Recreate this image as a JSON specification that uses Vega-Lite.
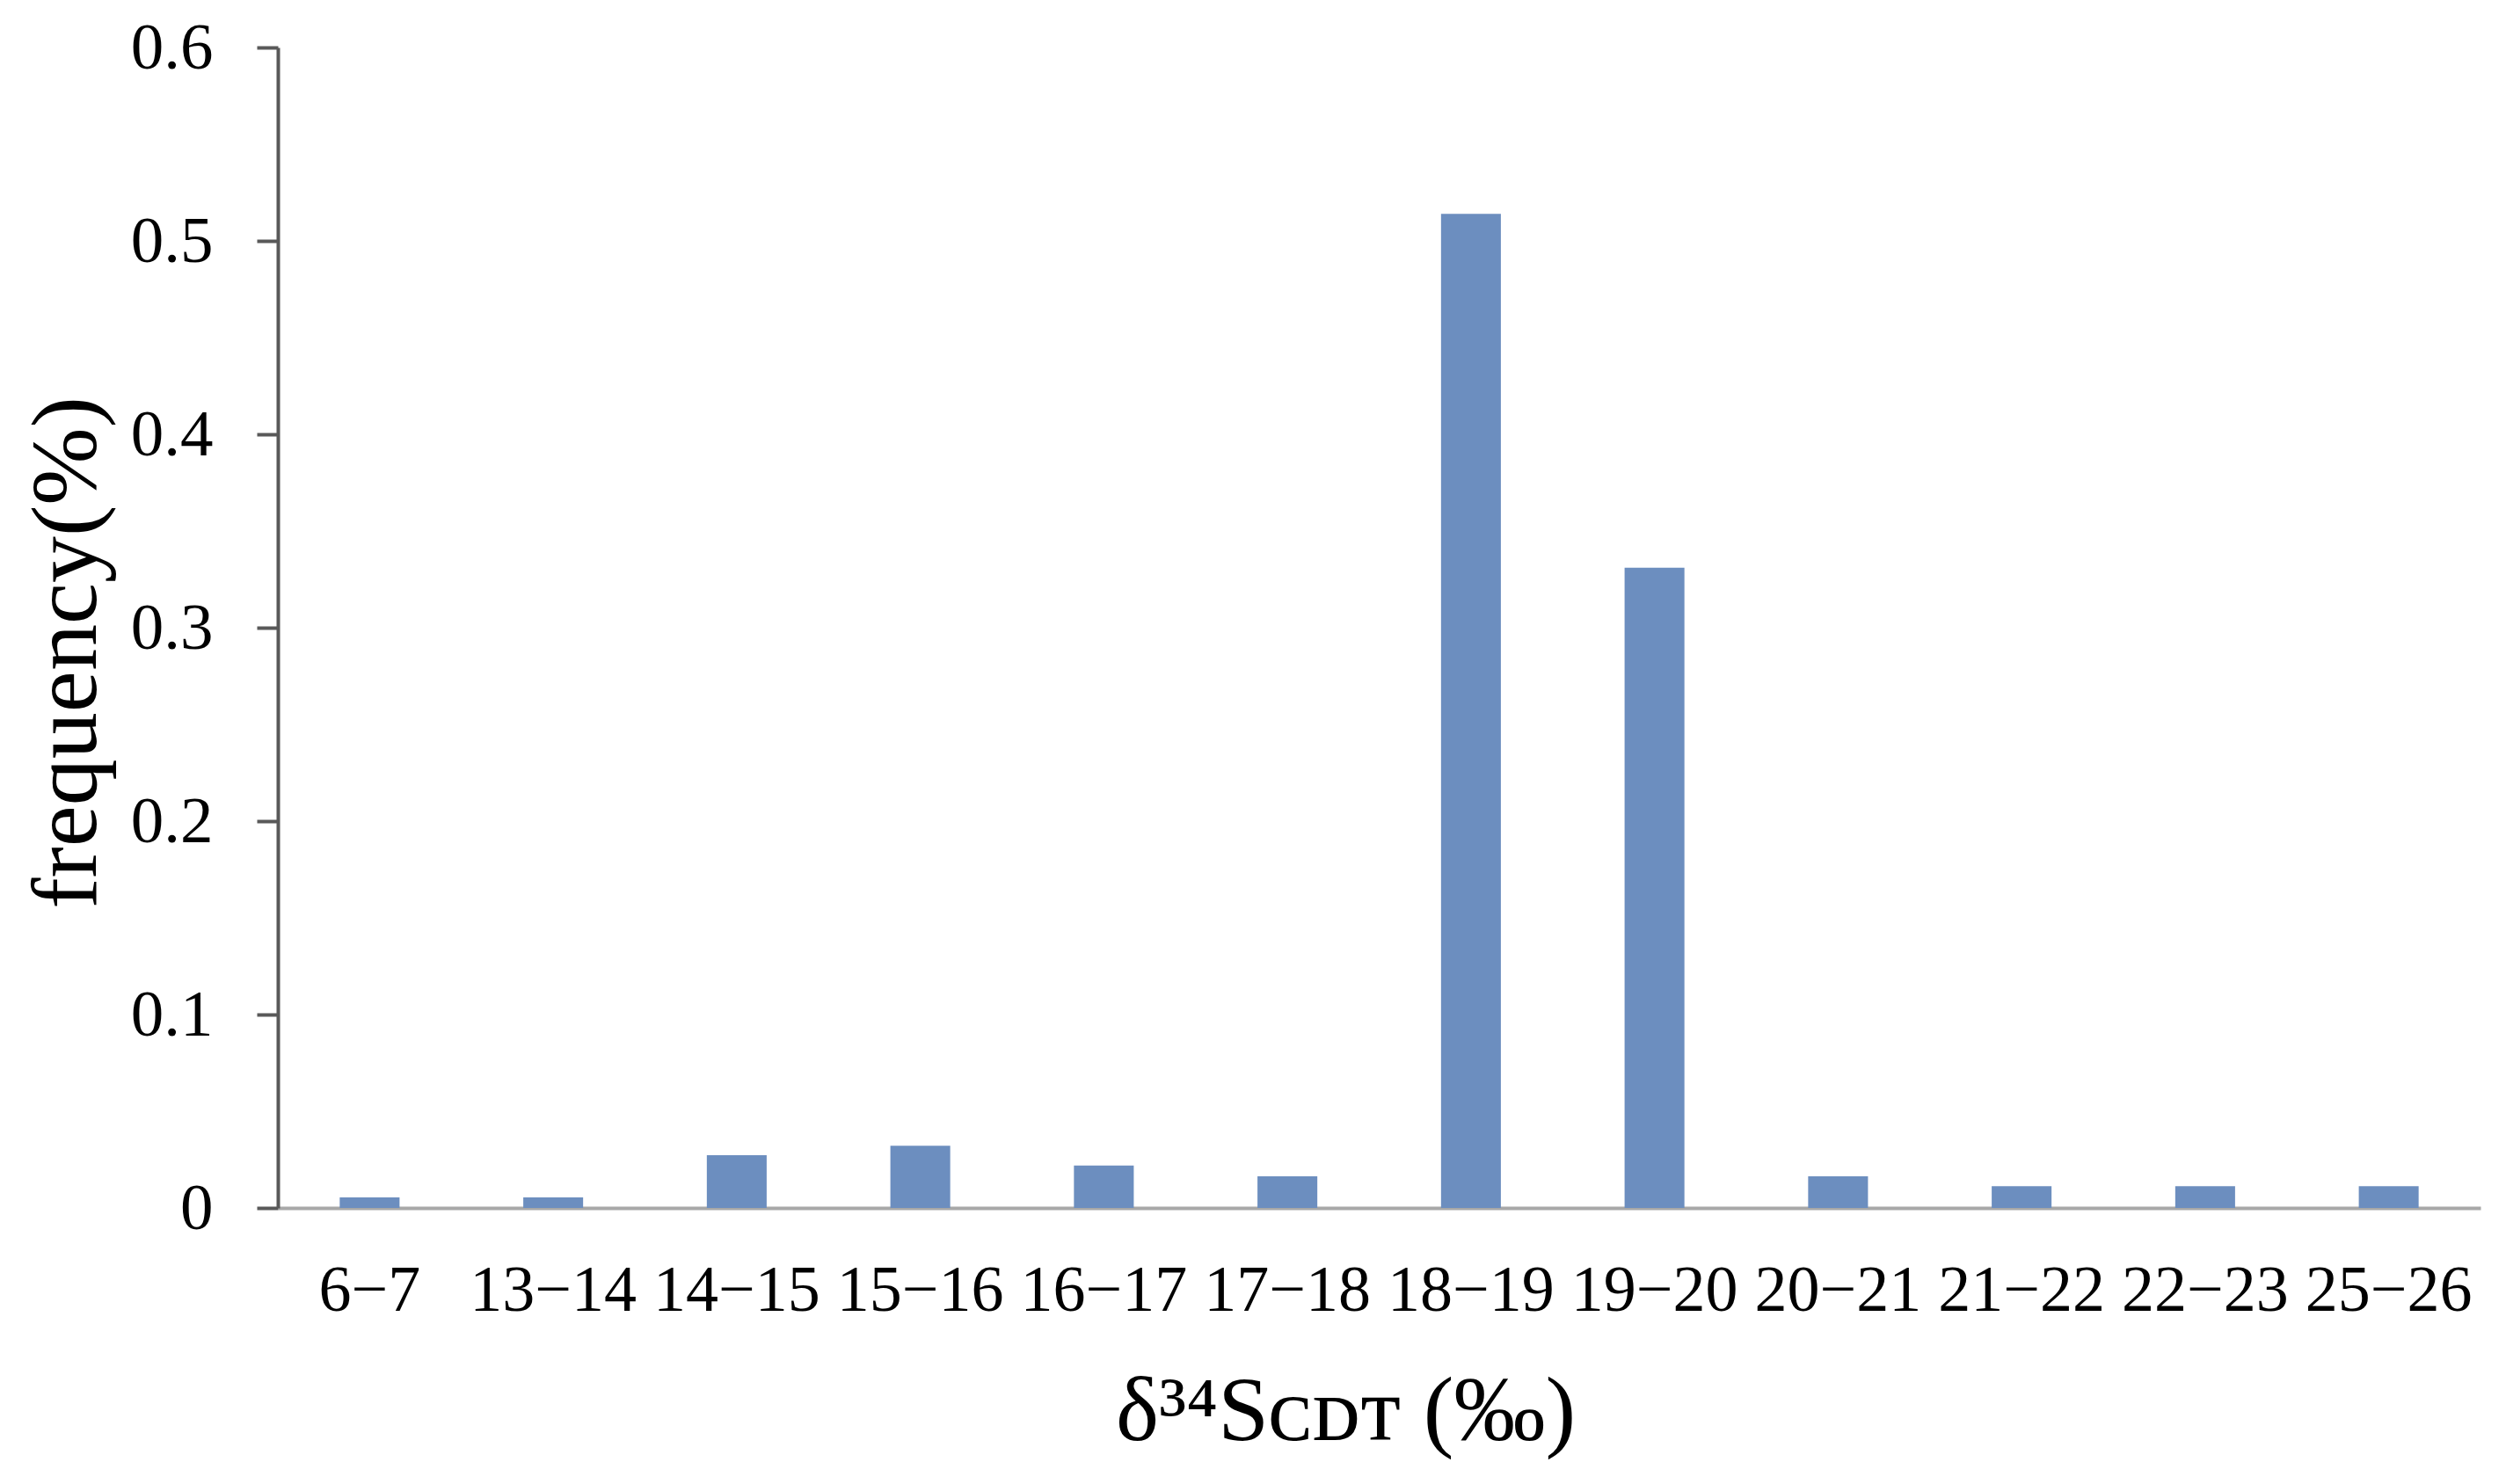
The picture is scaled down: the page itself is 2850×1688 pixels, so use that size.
{
  "$schema": "https://vega.github.io/schema/vega-lite/v6.json",
  "width": 2505,
  "height": 1320,
  "autosize": "none",
  "padding": {"left": 316, "top": 54, "right": 29, "bottom": 314},
  "background": "white",
  "config": {"view": {"stroke": null}, "font": "Liberation Serif"},
  "data": {"values": [
    {"range": "6−7", "frequency": 0.0055},
    {"range": "13−14", "frequency": 0.0055},
    {"range": "14−15", "frequency": 0.0273},
    {"range": "15−16", "frequency": 0.0322},
    {"range": "16−17", "frequency": 0.0219},
    {"range": "17−18", "frequency": 0.0164},
    {"range": "18−19", "frequency": 0.514},
    {"range": "19−20", "frequency": 0.331},
    {"range": "20−21", "frequency": 0.0164},
    {"range": "21−22", "frequency": 0.0112},
    {"range": "22−23", "frequency": 0.0112},
    {"range": "25−26", "frequency": 0.0112}
  ]},
  "mark": {"type": "bar", "color": "#6c8ebf"},
  "encoding": {
    "x": {
      "field": "range", "type": "nominal", "sort": null,
      "scale": {"paddingInner": 0.674, "paddingOuter": 0.337},
      "axis": {
        "title": "δ³⁴Sᴄᴅᴛ (‰)",
        "titleFont": "Liberation Serif", "titleFontSize": 104, "titleFontWeight": "normal", "titleColor": "#000000",
        "titleX": 1214, "titleY": 263, "titleBaseline": "alphabetic",
        "labelAngle": 0, "labelFont": "Liberation Serif", "labelFontSize": 74, "labelColor": "#000000",
        "labelPadding": 58, "labelLimit": 500, "ticks": false, "domainColor": "#a8a8a8", "domainWidth": 4,
        "grid": false, "labelOverlap": false
      }
    },
    "y": {
      "field": "frequency", "type": "quantitative",
      "scale": {"domain": [0, 0.6], "nice": false},
      "axis": {
        "title": "frequency(%)",
        "titleFont": "Liberation Serif", "titleFontSize": 106, "titleFontWeight": "normal", "titleColor": "#000000",
        "titleX": -240, "titleY": 688, "titleAngle": -90, "titleBaseline": "middle", "titleAlign": "center",
        "values": [0, 0.1, 0.2, 0.3, 0.4, 0.5, 0.6], "format": "~g",
        "labelFont": "Liberation Serif", "labelFontSize": 75, "labelColor": "#000000",
        "labelPadding": 50, "tickSize": 24, "tickColor": "#595959", "tickWidth": 4,
        "domainColor": "#595959", "domainWidth": 4, "grid": false
      }
    }
  }
}
